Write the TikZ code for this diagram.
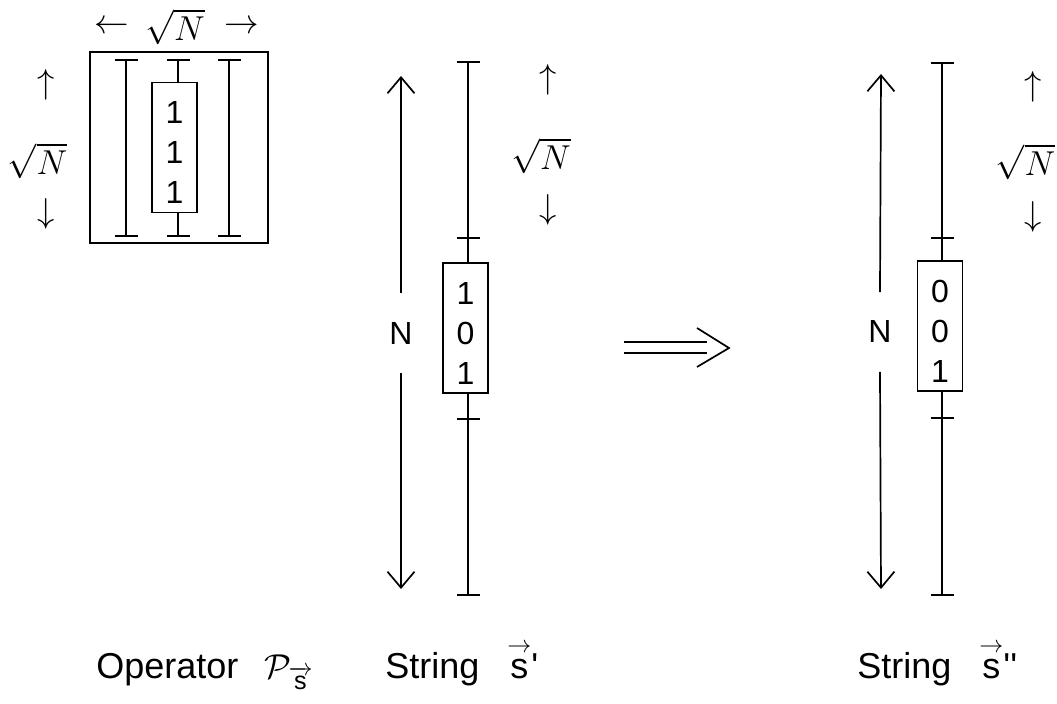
\documentclass[tikz,border=0pt]{standalone}
\usepackage{amsmath}
\usepackage{fontspec}
\setmainfont{Liberation Sans}
\usetikzlibrary{arrows.meta}

\begin{document}
\begin{tikzpicture}[
  x=0.5pt, y=-0.5pt,
  frame/.style={rectangle, draw, line width=0.85pt, minimum width=89pt, minimum height=95.5pt, inner sep=0pt},
  cell/.style={rectangle, draw, line width=0.85pt, minimum width=22.5pt, minimum height=65pt, inner sep=0pt, align=center, font=\fontsize{16}{20}\selectfont},
  ibar/.style={{Bar[width=11.5pt]}-{Bar[width=11.5pt]}, line width=0.85pt},
  wire/.style={line width=0.85pt},
  span/.style={-{Straight Barb[length=8pt, width=13.5pt]}, line width=0.85pt},
  nlab/.style={inner sep=0pt, minimum height=39.5pt, font=\fontsize{16}{20}\selectfont},
  dim/.style={inner sep=0pt, font=\fontsize{17.28}{20}\selectfont},
  caption/.style={anchor=base west, inner sep=0pt, font=\fontsize{17.28}{22}\selectfont}
]
\useasboundingbox (0,0) rectangle (1057,704);

% Operator block
\node[frame] (opframe) at (179,147.5) {};
\node[cell] (opcell) at (174.5,147.5) {\rule{0pt}{16.5pt}1\\1\\1};
\coordinate (opltop) at (126,59);  \coordinate (oplbot) at (126,237);
\coordinate (opmtop) at (178,59);  \coordinate (opmbot) at (178,237);
\coordinate (oprtop) at (229,59);  \coordinate (oprbot) at (229,237);
\draw[ibar] (opltop) -- (oplbot);
\draw[ibar] (oprtop) -- (oprbot);
\draw[{Bar[width=11.5pt]}-, wire] (opmtop) -- (opmtop |- opcell.north);
\draw[-{Bar[width=11.5pt]}, wire] (opmbot |- opcell.south) -- (opmbot);

% Operator dimensions
\node[dim] (opwl) at (111.7,27) {$\leftarrow$};
\node[dim, anchor=base] (opw) at (175,41) {$\sqrt{N}$};
\node[dim] (opwr) at (241.7,27) {$\rightarrow$};
\node[dim] (ophu) at (46,85) {$\uparrow$};
\node[dim, anchor=base] (oph) at (37.5,175) {$\sqrt{N}$};
\node[dim] (ophd) at (46,214) {$\downarrow$};

% String s'
\node[cell] (s1cell) at (465.5,328) {\rule{0pt}{16.5pt}1\\0\\1};
\coordinate (s1top) at (468,61);   \coordinate (s1tka) at (468,239);
\coordinate (s1tkb) at (468,418);  \coordinate (s1bot) at (468,596);
\draw[ibar] (s1top) -- (s1tka);
\draw[wire] (s1tka) -- (s1tka |- s1cell.north);
\draw[wire] (s1tkb |- s1cell.south) -- (s1tkb);
\draw[ibar] (s1tkb) -- (s1bot);
\node[nlab] (s1n) at (401,333) {N};
\coordinate (s1up) at (401,76);    \coordinate (s1dn) at (401,589);
\draw[span] (s1n.north) -- (s1up);
\draw[span] (s1n.south) -- (s1dn);
\node[dim] (s1hu) at (548,80) {$\uparrow$};
\node[dim, anchor=base] (s1h) at (541,170) {$\sqrt{N}$};
\node[dim] (s1hd) at (548,210) {$\downarrow$};

% Implication
\draw[wire] (624,342) -- (707,342);
\draw[wire] (624,353) -- (707,353);
\draw[wire] (697,328) -- (729,348) -- (697,367);

% String s''
\node[cell] (s2cell) at (940,326) {\rule{0pt}{16.5pt}0\\0\\1};
\coordinate (s2top) at (942,62);   \coordinate (s2tka) at (942,239);
\coordinate (s2tkb) at (942,417);  \coordinate (s2bot) at (942,596);
\draw[ibar] (s2top) -- (s2tka);
\draw[wire] (s2tka) -- (s2tka |- s2cell.north);
\draw[wire] (s2tkb |- s2cell.south) -- (s2tkb);
\draw[ibar] (s2tkb) -- (s2bot);
\node[nlab] (s2n) at (880,332) {N};
\coordinate (s2up) at (881,74);    \coordinate (s2dn) at (881,589);
\draw[span] (s2n.north) -- (s2up);
\draw[span] (s2n.south) -- (s2dn);
\node[dim] (s2hu) at (1033,87) {$\uparrow$};
\node[dim, anchor=base] (s2h) at (1025.5,176) {$\sqrt{N}$};
\node[dim] (s2hd) at (1033,217) {$\downarrow$};

% Captions
\node[caption] (opcap) at (96,679) {\fontsize{18}{22}\selectfont Operator\hspace{13pt}$\mathcal{P}_{\overrightarrow{\text{s}}}$};
\node[caption] (s1cap) at (385,679) {\fontsize{18}{22}\selectfont String\hspace{14pt}$\overset{\rightarrow}{\text{s}}$\textquotesingle};
\node[caption] (s2cap) at (857,679) {\fontsize{18}{22}\selectfont String\hspace{14pt}$\overset{\rightarrow}{\text{s}}$\textquotesingle\textquotesingle};

\end{tikzpicture}
\end{document}
